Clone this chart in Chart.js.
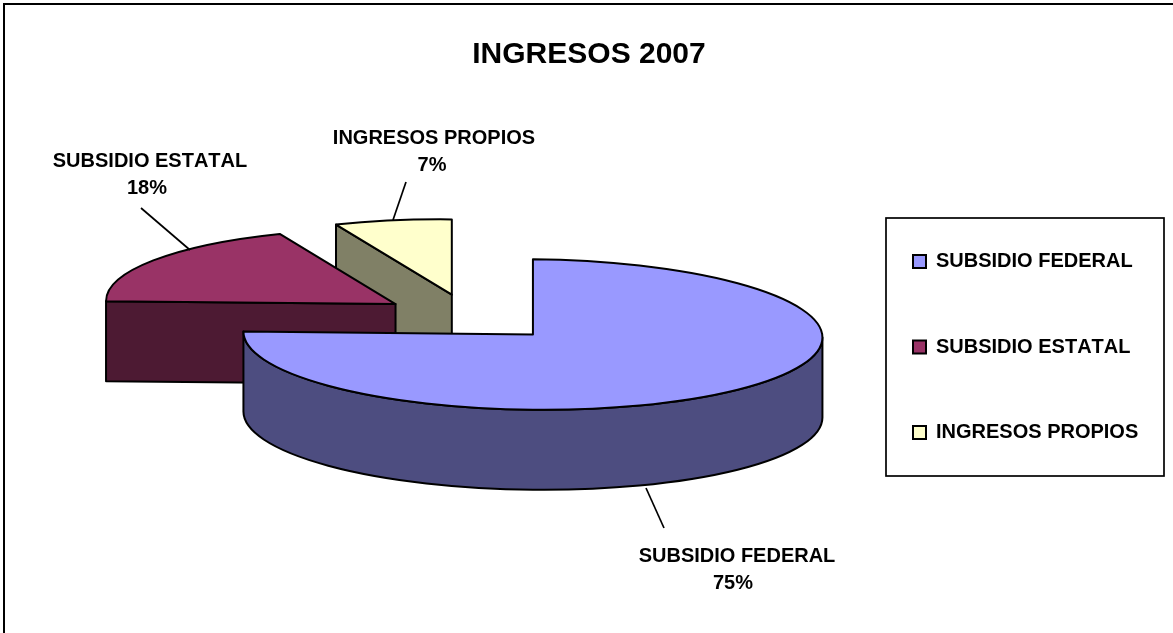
<!DOCTYPE html>
<html>
<head>
<meta charset="utf-8">
<style>html,body{margin:0;padding:0;background:#fff}canvas{display:block}</style>
<script src="https://cdn.jsdelivr.net/npm/chart.js@4"></script>
</head>
<body>
<canvas id="c" width="1173" height="633"></canvas>
<script>
const categories = ['SUBSIDIO FEDERAL', 'SUBSIDIO ESTATAL', 'INGRESOS PROPIOS'];
const values = [75, 18.45, 6.55];
const topColors = ['#9999FF', '#993366', '#FFFFCC'];
const wallColors = ['#4D4D80', '#4D1A33', '#808066'];
const titleText = 'INGRESOS 2007';

const pie = {cx: 470, cy: 317.5, radius: 289.5, squash: 0.26, shear: 0.01, explode: 89, depth: 80, paintOrder: [2, 1, 0]};
const FONT = 'Liberation Sans, Arial, sans-serif';
const callouts = [
  {x: 737, y: 556, dy: 27, pctShift: 4, line: [646, 488, 664, 528]},
  {x: 150, y: 161, dy: 27, pctShift: 3, line: [141, 208, 190, 250]},
  {x: 434, y: 138, dy: 27, pctShift: 2, line: [406, 182, 393, 220]}
];
const legendBox = {left: 886, top: 218, right: 1164, bottom: 476};
const legendPadding = 65.5;

function inPie(ctx, el, fn) {
  const mid = (el.startAngle + el.endAngle) / 2;
  ctx.save();
  ctx.transform(1, pie.shear, 0, pie.squash, pie.cx, pie.cy);
  ctx.translate(-el.x + Math.cos(mid) * pie.explode, -el.y + Math.sin(mid) * pie.explode);
  fn();
  ctx.restore();
}
function strokeNow(ctx) {
  ctx.lineWidth = 2; ctx.strokeStyle = '#000'; ctx.lineJoin = 'round'; ctx.stroke();
}
function radialFace(ctx, el, angle, color) {
  const d = pie.depth / pie.squash, R = el.outerRadius;
  inPie(ctx, el, () => {
    ctx.beginPath();
    ctx.moveTo(el.x, el.y);
    ctx.lineTo(el.x + Math.cos(angle) * R, el.y + Math.sin(angle) * R);
    ctx.lineTo(el.x + Math.cos(angle) * R, el.y + Math.sin(angle) * R + d);
    ctx.lineTo(el.x, el.y + d);
    ctx.closePath();
  });
  ctx.fillStyle = color; ctx.fill(); strokeNow(ctx);
}
const pie3d = {
  id: 'pie3d',
  afterLayout(chart) {
    const l = chart.legend;
    l.left = 913 - legendPadding; l.right = 1173;
    l.top = 251.5 - legendPadding; l.bottom = 633;
    l.width = l.right - l.left; l.height = l.bottom - l.top;
  },
  beforeDraw(chart) {
    const ctx = chart.ctx;
    ctx.fontKerning = 'none';
    ctx.save();
    ctx.lineWidth = 2; ctx.strokeStyle = '#000';
    ctx.strokeRect(4, 4, 1300, 800);
    ctx.lineWidth = 1.7;
    ctx.fillStyle = '#fff';
    ctx.fillRect(legendBox.left, legendBox.top, legendBox.right - legendBox.left, legendBox.bottom - legendBox.top);
    ctx.strokeRect(legendBox.left, legendBox.top, legendBox.right - legendBox.left, legendBox.bottom - legendBox.top);
    ctx.restore();
  },
  beforeDatasetDraw(chart, args) {
    const ctx = chart.ctx, arcs = args.meta.data;
    pie.paintOrder.forEach(i => {
      const el = arcs[i], s = el.startAngle, e = el.endAngle, R = el.outerRadius;
      ctx.save();
      if (-Math.cos(s) > 1e-6) radialFace(ctx, el, s, wallColors[i]);
      if (Math.cos(e) > 1e-6) radialFace(ctx, el, e, wallColors[i]);
      const a = Math.max(s, 0), b = Math.min(e, Math.PI);
      if (a < b) {
        inPie(ctx, el, () => {
          ctx.beginPath();
          ctx.arc(el.x, el.y, R, a, b);
          ctx.arc(el.x, el.y + pie.depth / pie.squash, R, b, a, true);
          ctx.closePath();
        });
        ctx.fillStyle = wallColors[i]; ctx.fill(); strokeNow(ctx);
      }
      inPie(ctx, el, () => el.draw(ctx));
      inPie(ctx, el, () => {
        ctx.beginPath();
        ctx.moveTo(el.x, el.y);
        ctx.arc(el.x, el.y, R, s, e);
        ctx.closePath();
      });
      strokeNow(ctx);
      ctx.restore();
    });
    return false;
  },
  afterDatasetsDraw(chart) {
    const ctx = chart.ctx;
    const total = values.reduce((p, v) => p + v, 0);
    ctx.save();
    ctx.fillStyle = '#000';
    ctx.font = 'bold 20px ' + FONT;
    ctx.textAlign = 'center'; ctx.textBaseline = 'middle';
    callouts.forEach((c, i) => {
      ctx.fillText(categories[i], c.x, c.y);
      ctx.fillText(Math.round(values[i] / total * 100) + '%', c.x - c.pctShift, c.y + c.dy);
      ctx.beginPath();
      ctx.moveTo(c.line[0], c.line[1]); ctx.lineTo(c.line[2], c.line[3]);
      ctx.lineWidth = 1.7; ctx.strokeStyle = '#000'; ctx.stroke();
    });
    ctx.restore();
  }
};

new Chart(document.getElementById('c'), {
  type: 'pie',
  plugins: [pie3d],
  data: {
    labels: categories,
    datasets: [{data: values, backgroundColor: topColors, borderWidth: 0, hoverOffset: 0}]
  },
  options: {
    responsive: false,
    animation: false,
    events: [],
    radius: pie.radius,
    layout: {padding: {left: 5}},
    plugins: {
      tooltip: {enabled: false},
      title: {
        display: true, text: titleText, color: '#000',
        font: {family: FONT, size: 30, weight: 'bold'},
        padding: {top: 37, bottom: 20}
      },
      legend: {
        position: 'right',
        align: 'start',
        labels: {
          color: '#000', boxWidth: 13, boxHeight: 13, padding: legendPadding,
          font: {family: FONT, size: 20, weight: 'bold'},
          generateLabels(chart) {
            return Chart.overrides.pie.plugins.legend.labels.generateLabels(chart).map(it => {
              it.strokeStyle = '#000'; it.lineWidth = 2; return it;
            });
          }
        }
      }
    }
  }
});
</script>
</body>
</html>
